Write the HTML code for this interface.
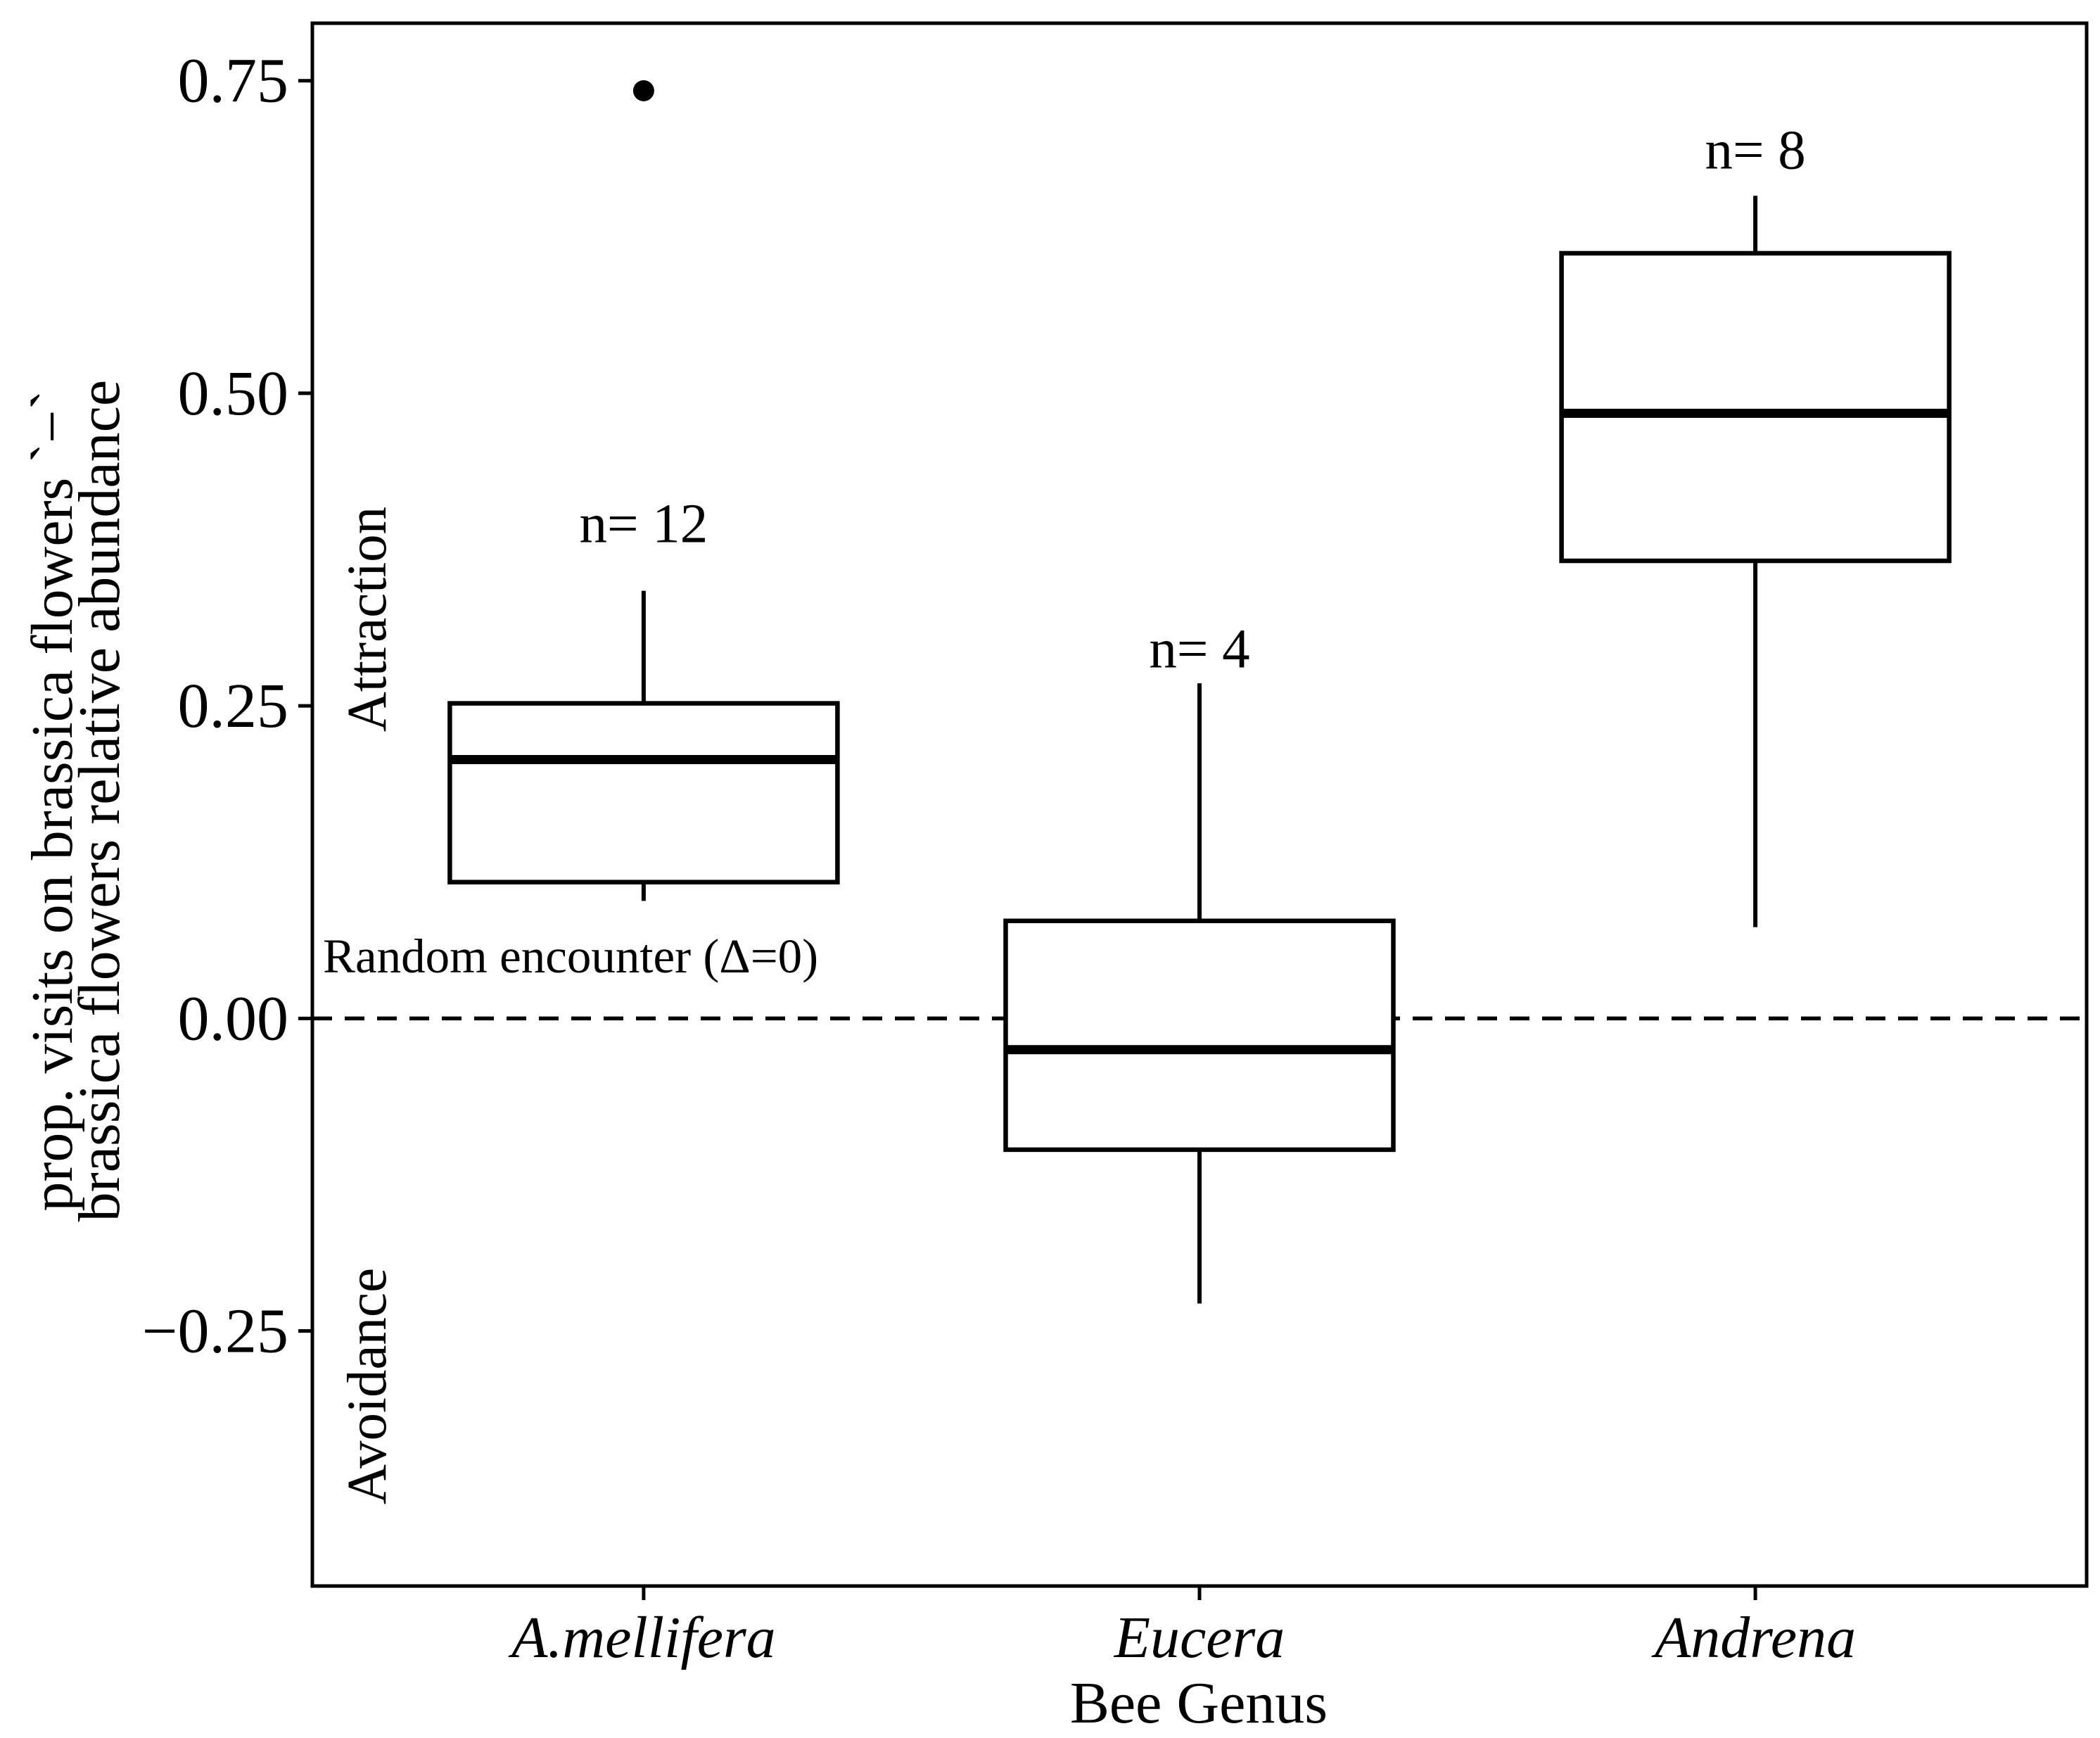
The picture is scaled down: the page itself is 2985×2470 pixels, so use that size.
<!DOCTYPE html>
<html><head><meta charset="utf-8"><style>
html,body{margin:0;padding:0;background:#fff}
svg{display:block}
text{font-family:"Liberation Serif",serif;fill:#000}
</style></head><body>
<svg id="chart" width="2985" height="2470" viewBox="0 0 2985 2470" xmlns="http://www.w3.org/2000/svg">
</svg>
<script>
const categories = ["A.mellifera","Eucera","Andrena"];
const whiskerLow = [0.094,-0.228,0.073];
const q1 = [0.109,-0.105,0.366];
const median = [0.207,-0.025,0.484];
const q3 = [0.252,0.078,0.612];
const whiskerHigh = [0.342,0.268,0.658];
const outliers = [[0.742],[],[]];
const nLabels = ["n= 12","n= 4","n= 8"];
const nLabelValues = [0.396,0.296,0.695];
const yTicks = [-0.25,0,0.25,0.5,0.75];
const yTickLabels = ["\u22120.25","0.00","0.25","0.50","0.75"];

const L=444,R=2966,T=33,B=2254;
const yMin=-0.454,yMax=0.796;
const xMin=0.404,xMax=3.596;
const y=v=>B-(v-yMin)/(yMax-yMin)*(B-T);
const x=i=>L+(i+1-xMin)/(xMax-xMin)*(R-L);
const boxW=551;
const NS="http://www.w3.org/2000/svg";
const svg=document.getElementById('chart');
function mk(tag,attrs,parent){const e=document.createElementNS(NS,tag);for(const k in attrs)e.setAttribute(k,attrs[k]);(parent||svg).appendChild(e);return e;}

const zl=mk('line',{x1:L,x2:R,y1:y(0),y2:y(0),stroke:'#000','stroke-width':5.5,'stroke-dasharray':'28,18'});



categories.forEach((c,i)=>{
  const g=mk('g',{});
  
  
  const cx=x(i);
  mk('line',{x1:cx,x2:cx,y1:y(q3[i]),y2:y(whiskerHigh[i]),stroke:'#000','stroke-width':6},g);
  mk('line',{x1:cx,x2:cx,y1:y(q1[i]),y2:y(whiskerLow[i]),stroke:'#000','stroke-width':6},g);
  mk('rect',{x:cx-boxW/2,y:y(q3[i]),width:boxW,height:y(q1[i])-y(q3[i]),fill:'#fff',stroke:'#000','stroke-width':6.5},g);
  mk('line',{x1:cx-boxW/2,x2:cx+boxW/2,y1:y(median[i]),y2:y(median[i]),stroke:'#000','stroke-width':13},g);
  outliers[i].forEach(v=>{
    const o=mk('circle',{cx:cx,cy:y(v),r:15,fill:'#000'},g);
    
    
  });
  const t=mk('text',{x:cx,y:y(nLabelValues[i])+27,'text-anchor':'middle','font-size':79},g);
  t.textContent=nLabels[i];
  
  
  const xl=mk('text',{x:cx,y:2355,'text-anchor':'middle','font-size':84,'font-style':'italic'});
  xl.textContent=c;
  
  
  mk('line',{x1:cx,x2:cx,y1:B,y2:B+20,stroke:'#000','stroke-width':5});
});

yTicks.forEach((v,i)=>{
  mk('line',{x1:L-20,x2:L,y1:y(v),y2:y(v),stroke:'#000','stroke-width':5});
  const t=mk('text',{x:L-34,y:y(v)+30,'text-anchor':'end','font-size':90});
  t.textContent=yTickLabels[i];
  
  
});

const frame=mk('rect',{x:L,y:T,width:R-L,height:B-T,fill:'none',stroke:'#000','stroke-width':5});


</script>
<svg style="position:absolute;left:0;top:0" width="2985" height="2470" xmlns="http://www.w3.org/2000/svg">
<text x="1704" y="2448" text-anchor="middle" font-size="84">Bee Genus</text>
<g transform="translate(102,1138) rotate(-90)">
<text x="0" y="0" text-anchor="middle" font-size="84">prop. visits on brassica flowers `−`</text>
<text x="0" y="67" text-anchor="middle" font-size="84">brassica flowers relative abundance</text>
</g>
<text transform="translate(548,880) rotate(-90)" text-anchor="middle" font-size="79">Attraction</text>
<text transform="translate(548,1970) rotate(-90)" text-anchor="middle" font-size="79">Avoidance</text>
<text x="459" y="1382" font-size="69">Random encounter (Δ=0)</text>
</svg>
</body></html>
